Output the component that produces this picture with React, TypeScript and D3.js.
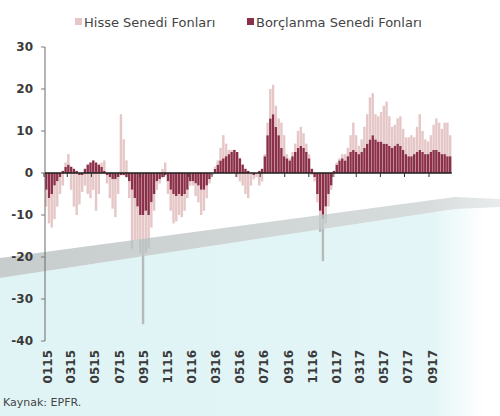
import React from "react";
import * as d3 from "d3";

// Weekly flows (bn USD), first week ending 2 Jan 2015
const borclanma: number[] = [
  -4, -6, -5, -3, -2, -1, 0.5, 1.5, 2, 1.5,
  1, 0.5, -0.5, -0.5, 1, 2, 2.5, 3, 2.5, 2,
  1.5, 0.5, -0.5, -1, -1.5, -1.5, -1, -0.5, -0.5, -1,
  -2, -4, -6, -8, -10, -10, -9, -10, -7, -5,
  -2, -1.5, -1, -0.5, -2, -4, -5, -5.5, -5, -5.5,
  -5, -4, -2, -2, -2.5, -3, -4, -4, -3, -1.5,
  0, 1, 2, 3, 3.5, 4, 4.5, 5, 5.5, 5,
  3.5, 2, 1, 0.5, 0, -0.5, 0, 0.5, 1, 4,
  9, 13, 14, 11, 9, 6, 4, 3.5, 3, 4,
  5, 6, 6.5, 6, 5, 3.5, 1, -1, -5, -9,
  -11, -8, -5, -3, 0.5, 2, 3, 3.5, 3, 4,
  5, 5.5, 5, 4.5, 5, 6, 7, 8, 9, 8,
  7.5, 7.5, 7, 7, 6.5, 6, 6.5, 7, 6.5, 5.5,
  4.5, 4, 4, 4.5, 5, 5.5, 5, 4.5, 4.5, 5,
  5.5, 5.5, 5, 4.5, 4.5, 4, 4,
];

const hisse: number[] = [
  -4, -6, -8, -8, -6, -4, -3, 1, 2.5, -4,
  -8, -10, -7, -4, -3, -5, -6, -4, -9, -5,
  1, 2.5, -2, -5, -7, -9, -4, 14, 8, 3,
  -4, -14, -10, -8, -9, -26, -10, -8, -6, -4,
  -2, -1, 1, 2.5, -3, -5, -7, -6, -5, -5,
  -4, -2, -1, -1, -3, -4, -6, -5, -3, -1,
  -0.5, 0.5, 1, 3, 5.5, 3, 1, 0.5, 0, -1,
  -2, -3, -5, -6, -3, -1, -1, -3, -2, 0.5,
  3, 7, 7, 5, 4, 6, 5, 1, 0.5, 1,
  2, 4, 4.5, 3.5, 2, 1, -0.5, -1, -2, -5,
  -10, -4, -3, -1, -1, 0.5, 0.5, 1, 1.5, 2,
  4, 6.5, 4, 2, 3, 5, 7, 10, 10, 6,
  6, 7, 9, 10, 7, 5, 5, 6, 7, 5,
  4, 4.5, 5, 4, 6, 8.5, 5, 3.5, 3, 4,
  6, 7.5, 7, 6, 7.5, 8, 5,
];

const tickLabels = [
  "0115", "0315", "0515", "0715", "0915", "1115",
  "0116", "0316", "0516", "0716", "0916", "1116",
  "0117", "0317", "0517", "0717", "0917",
];
const yTicks = [30, 20, 10, 0, -10, -20, -30, -40];
const seriesNames = ["Hisse Senedi Fonları", "Borçlanma Senedi Fonları"];
const sourceText = "Kaynak: EPFR.";

const LIGHT = "#e6c7c7";
const DARK = "#8b3048";
const LIGHT_UNDER = "#b6babb";
const DARK_UNDER = "#70404c";

export default function App() {
  const W = 500, H = 416;
  const firstWeek = new Date(2015, 0, 2);
  const rows = borclanma.map((b, i) => ({
    date: d3.timeDay.offset(firstWeek, 7 * i),
    borc: b,
    hisse: hisse[i],
  }));

  const x = d3.scaleTime()
    .domain([new Date(2015, 0, 1), new Date(2017, 8, 1)])
    .range([46, 431]);
  const y = d3.scaleLinear().domain([-40, 30]).range([341, 47]);

  const stack = d3.stack<any>()
    .keys(["borc", "hisse"])
    .offset(d3.stackOffsetDiverging);
  const layers = stack(rows);

  const bw = x(d3.timeDay.offset(firstWeek, 7)) - x(firstWeek);

  const tickDates = tickLabels.map((t) => new Date(2000 + +t.slice(2), +t.slice(0, 2) - 1, 1));

  const bars = (colors: string[]) =>
    layers.map((layer, li) => (
      <g key={li} fill={colors[li]}>
        {layer.map((d, i) => {
          const y0 = y(d[0]), y1 = y(d[1]);
          const h = Math.abs(y0 - y1);
          if (h < 0.01) return null;
          return (
            <rect
              key={i}
              x={x(rows[i].date) - bw / 2}
              y={Math.min(y0, y1)}
              width={bw - 0.35}
              height={h}
            />
          );
        })}
      </g>
    ));

  const zeroX0 = 45;
  const zeroX1 = x(rows[rows.length - 1].date) + bw / 2;

  const font = "'DejaVu Sans', Verdana, sans-serif";

  const bandTop = "0,258 455,197 500,199";
  const bandBottomRev = "500,207 455,209 0,278";

  return (
    <svg width={W} height={H} style={{ position: "absolute", left: 0, top: 0 }}>
      <defs>
        <linearGradient id="cyanFade" x1="0" x2="1" y1="0" y2="0">
          <stop offset="0" stopColor="#e0f4f5" />
          <stop offset="0.86" stopColor="#e3f5f6" />
          <stop offset="0.97" stopColor="#ffffff" />
        </linearGradient>
        <linearGradient id="bandFade" x1="0" x2="1" y1="0" y2="0">
          <stop offset="0" stopColor="#b9c0c0" />
          <stop offset="0.85" stopColor="#ccd2d2" />
          <stop offset="1" stopColor="#e3e7e7" />
        </linearGradient>
        <clipPath id="above">
          <polygon points={`0,0 500,0 ${bandTop.split(" ").reverse().join(" ")}`} />
        </clipPath>
        <clipPath id="below">
          <polygon points={`${bandTop} 500,416 0,416`} />
        </clipPath>
      </defs>
      <rect width={W} height={H} fill="#ffffff" />
      <polygon points={`0,278 455,209 500,207 500,416 0,416`} fill="url(#cyanFade)" />

      {/* bars */}
      <g clipPath="url(#above)">{bars([DARK, LIGHT])}</g>
      <g clipPath="url(#below)">{bars([DARK_UNDER, LIGHT_UNDER])}</g>

      {/* band */}
      <polygon points={`${bandTop} ${bandBottomRev}`} fill="url(#bandFade)" opacity={0.8} />

      {/* y axis */}
      <line x1={45} x2={45} y1={y(30)} y2={y(-40)} stroke="#6a6a6a" strokeWidth={1} />
      {yTicks.map((t) => (
        <g key={t}>
          <line x1={41} x2={45} y1={y(t)} y2={y(t)} stroke="#7a7a7a" />
          <text
            x={33}
            y={y(t)}
            textAnchor="end"
            dominantBaseline="central"
            fontFamily={font}
            fontWeight="bold"
            fontSize={12}
            fill="#3a3a3a"
          >
            {t}
          </text>
        </g>
      ))}

      {/* zero line */}
      <line x1={zeroX0} x2={zeroX1} y1={y(0)} y2={y(0)} stroke="#1e1e1e" strokeWidth={1.5} />
      {tickDates.map((d, i) => (
        <line key={i} x1={x(d) - 2} x2={x(d) - 2} y1={y(0)} y2={y(0) + 4} stroke="#333" />
      ))}

      {/* x labels */}
      {tickDates.map((d, i) => (
        <text
          key={i}
          transform={`translate(${x(d) + 2},350) rotate(-90)`}
          textAnchor="end"
          dominantBaseline="central"
          fontFamily={font}
          fontWeight="bold"
          fontSize={12}
          fill="#3a3a3a"
        >
          {tickLabels[i]}
        </text>
      ))}

      {/* legend */}
      <rect x={75} y={18} width={7} height={7} fill={LIGHT} />
      <text x={84} y={26.5} fontFamily={font} fontSize={13} fill="#444">
        {seriesNames[0]}
      </text>
      <rect x={247} y={18} width={7} height={7} fill={DARK} />
      <text x={256} y={26.5} fontFamily={font} fontSize={13} fill="#444">
        {seriesNames[1]}
      </text>

      {/* source */}
      <text x={3} y={406} fontFamily={font} fontSize={11} fill="#444">
        {sourceText}
      </text>
    </svg>
  );
}
